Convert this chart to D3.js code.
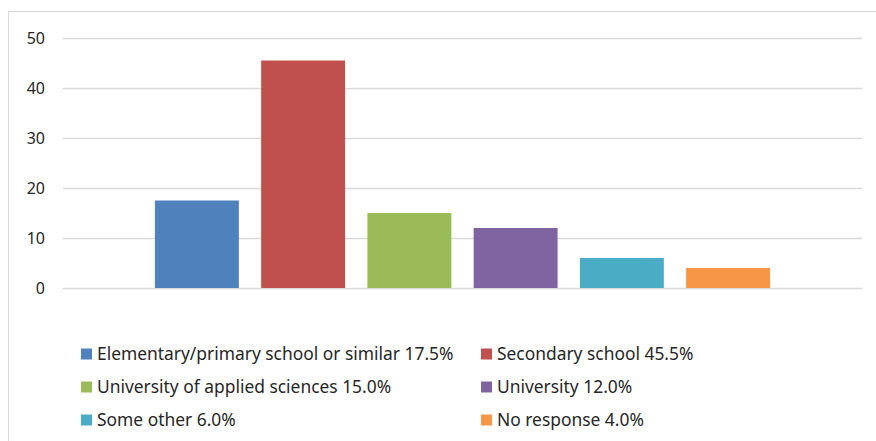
<!DOCTYPE html>
<html lang="en">
<head>
<meta charset="UTF-8">
<script src="https://d3js.org/d3.v7.min.js"></script>
<style>
body {margin: 0; background: white;}
svg {display: block; font-family: "Noto Sans", "Open Sans", sans-serif;}
.grid line {stroke: #d9d9d9; stroke-width: 1.5;}
.grid path {display: none;}
.ylab text {fill: #262626; font-size: 16px;}
.legend text {fill: #262626; font-size: 17.4px;}
</style>
</head>
<body>
<svg width="876" height="441"></svg>
<script>
// data
var series = ["Elementary/primary school or similar", "Secondary school",
              "University of applied sciences", "University", "Some other", "No response"];
var values = [17.5, 45.5, 15.0, 12.0, 6.0, 4.0];
var colors = ["#4f81bd", "#c0504d", "#9bbb59", "#8064a2", "#4bacc6", "#f79646"];
var yTicks = [0, 10, 20, 30, 40, 50];

var svg = d3.select("svg");

// outer frame (only the top and left edges are visible)
svg.append("rect")
    .attr("x", 8.5).attr("y", 11.5)
    .attr("width", 900).attr("height", 500)
    .attr("fill", "none").attr("stroke", "#d9d9d9");

var plotLeft = 63, plotRight = 862, plotTop = 38, plotBottom = 288;

var y = d3.scaleLinear().domain([0, 50]).range([plotBottom, plotTop]);

// one category holding all six series
var x0 = d3.scaleBand().domain(["all"]).range([plotLeft, plotRight]).padding(0.13);
var x1 = d3.scaleBand().domain(series)
    .range([x0("all"), x0("all") + x0.bandwidth()])
    .paddingInner(0.21);

svg.append("g")
    .attr("class", "grid")
    .attr("transform", "translate(" + plotLeft + ",0)")
    .call(d3.axisLeft(y).tickValues(yTicks).tickSize(-(plotRight - plotLeft)).tickFormat(""));

var ylab = svg.append("g").attr("class", "ylab");
ylab.selectAll("text")
    .data(yTicks)
    .enter()
    .append("text")
    .attr("x", 45)
    .attr("y", function(d) { return y(d); })
    .attr("dy", "0.35em")
    .attr("text-anchor", "end")
    .text(function(d) { return d; });

svg.append("g")
    .selectAll("rect")
    .data(values)
    .enter()
    .append("rect")
    .attr("x", function(d, i) { return x1(series[i]); })
    .attr("width", x1.bandwidth())
    .attr("y", function(d) { return y(d); })
    .attr("height", function(d) { return y(0) - y(d); })
    .attr("fill", function(d, i) { return colors[i]; });

// legend in two columns
var legend = svg.append("g").attr("class", "legend");
var item = legend.selectAll("g")
    .data(values)
    .enter()
    .append("g")
    .attr("transform", function(d, i) {
        return "translate(" + (i % 2 == 0 ? 81 : 481) + "," + (354 + Math.floor(i / 2) * 33) + ")";
    });
item.append("rect")
    .attr("x", 0).attr("y", -5.5)
    .attr("width", 11).attr("height", 11)
    .attr("fill", function(d, i) { return colors[i]; });
item.append("text")
    .attr("x", 16)
    .attr("dy", "0.35em")
    .text(function(d, i) { return series[i] + " " + d.toFixed(1) + "%"; });
</script>
</body>
</html>
